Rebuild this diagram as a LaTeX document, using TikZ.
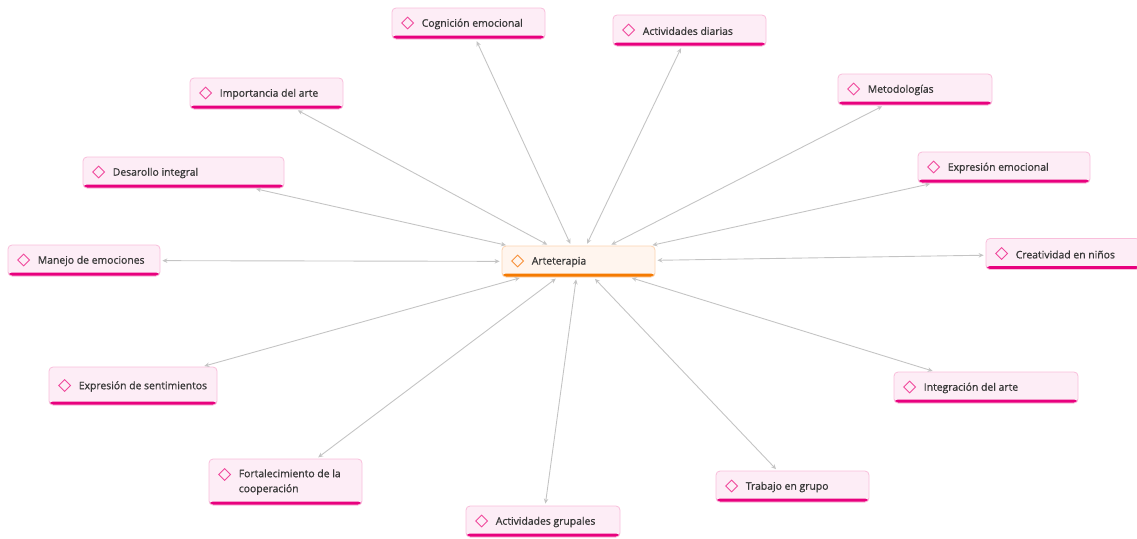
\documentclass[tikz,border=0pt]{standalone}
\usepackage{fontspec}
\setmainfont{Open Sans}
\newfontfamily\semib{Open Sans}[FakeBold=0.9]
\usetikzlibrary{arrows.meta,calc,shapes.geometric}
\definecolor{pfill}{HTML}{FDEDF6}
\definecolor{pborder}{HTML}{F9BEDB}
\definecolor{pbar}{HTML}{E8007E}
\definecolor{pdia}{HTML}{F0489C}
\definecolor{ofill}{HTML}{FFF5EE}
\definecolor{oborder}{HTML}{FCD3B0}
\definecolor{obar}{HTML}{F57A00}
\definecolor{odia}{HTML}{F7913A}
\definecolor{txt}{HTML}{383838}
\definecolor{edge}{HTML}{C4C4C4}
\tikzset{
  topic/.style={draw=pborder, fill=pfill, rounded corners=4pt, line width=0.8pt, inner sep=0pt,
    path picture={\fill[pbar] ([yshift=3.5pt]path picture bounding box.south west) rectangle (path picture bounding box.south east);}},
  core/.style={draw=oborder, fill=ofill, rounded corners=4pt, line width=0.8pt, inner sep=0pt,
    path picture={\fill[obar] ([yshift=3.5pt]path picture bounding box.south west) rectangle (path picture bounding box.south east);}},
  lbl/.style={text=txt, font=\semib\fontsize{10.4}{15}\selectfont, inner sep=0pt, align=left},
  dia/.style={diamond, minimum size=12pt, inner sep=0pt, line width=0.9pt},
  conn/.style={draw=edge, line width=0.9pt, {Stealth[length=5pt,width=4.5pt]}-{Stealth[length=5pt,width=4.5pt]}, shorten <=2pt, shorten >=2pt}
}
% #1 name, #2 style, #3 diamond colour, #4 x, #5 y, #6 width, #7 height, #8 text
\newcommand\topicnode[8]{%
  \node[#2, minimum width=#6pt, minimum height=#7pt] (#1) at (#4,#5) {};
  \node[lbl, anchor=west] (#1-t) at ([xshift=30pt,yshift=-0.5pt]#1.west) {#8};
  \node[dia, draw=#3] (#1-d) at ([xshift=16pt,yshift=0.5pt]#1.west) {};
}
\begin{document}
\begin{tikzpicture}[x=1pt,y=-1pt]
\useasboundingbox (0,0) rectangle (1137,538);
\topicnode{c}{core}{odia}{578.5}{261.5}{153}{31}{Arteterapia}
\topicnode{n1}{topic}{pdia}{468.5}{23.5}{153}{31}{Cognición emocional}
\topicnode{n2}{topic}{pdia}{689.5}{30.5}{153}{31}{Actividades diarias}
\topicnode{n3}{topic}{pdia}{266.5}{93.5}{153}{31}{Importancia del arte}
\topicnode{n4}{topic}{pdia}{915}{89.5}{154}{31}{Metodologías}
\topicnode{n5}{topic}{pdia}{183.5}{172.5}{201}{31}{Desarollo integral}
\topicnode{n6}{topic}{pdia}{1004}{167.5}{172}{31}{Expresión emocional}
\topicnode{n7}{topic}{pdia}{84}{260.5}{152}{31}{Manejo de emociones}
\topicnode{n8}{topic}{pdia}{1063}{254}{154}{31}{Creatividad en niños}
\topicnode{n9}{topic}{pdia}{133}{386}{168}{38}{Expresión de sentimientos}
\topicnode{n10}{topic}{pdia}{986}{387.5}{184}{31}{Integración del arte}
% two-line topic
\node[topic, minimum width=153pt, minimum height=46pt] (n11) at (285.5,482) {};
\node[lbl, anchor=west] (n11-t) at ([xshift=30pt,yshift=0pt]n11.west) {Fortalecimiento de la\\cooperación};
\node[dia, draw=pdia] (n11-d) at ([xshift=16pt,yshift=7.5pt]n11.west) {};
\topicnode{n12}{topic}{pdia}{792.5}{486.5}{153}{31}{Trabajo en grupo}
\topicnode{n13}{topic}{pdia}{543}{521.5}{154}{31}{Actividades grupales}
\foreach \n in {n1,n2,n3,n4,n5,n6,n7,n8,n9,n10,n11,n12,n13}
  \draw[conn] (c) -- (\n);
\end{tikzpicture}
\end{document}
